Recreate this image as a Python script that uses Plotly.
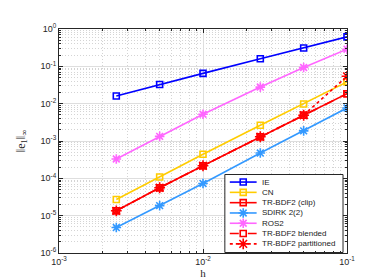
import plotly.graph_objects as go

h = [0.0025, 0.005, 0.01, 0.025, 0.05, 0.1]
ie = [0.0161, 0.0327, 0.0647, 0.160, 0.311, 0.617]
cn = [2.7e-5, 1.09e-4, 4.4e-4, 2.63e-3, 9.8e-3, 0.0383]
trbdf2_clip = [1.35e-5, 5.6e-5, 2.17e-4, 1.3e-3, 4.9e-3, 0.0185]
sdirk = [4.8e-6, 1.86e-5, 7.3e-5, 4.75e-4, 1.87e-3, 7.65e-3]
ros2 = [3.3e-4, 1.33e-3, 5.2e-3, 0.0278, 0.093, 0.288]
trbdf2_blended = [1.35e-5, 5.6e-5, 2.17e-4, 1.3e-3, 4.9e-3, 0.0185]
trbdf2_part = [1.35e-5, 5.6e-5, 2.17e-4, 1.3e-3, 4.9e-3, 0.054]

x_tickvals = [1e-3, 1e-2, 1e-1]
x_ticktext = ["10<sup>-3</sup>", "10<sup>-2</sup>", "10<sup>-1</sup>"]
y_tickvals = [1e-6, 1e-5, 1e-4, 1e-3, 1e-2, 1e-1, 1]
y_ticktext = ["10<sup>-6</sup>", "10<sup>-5</sup>", "10<sup>-4</sup>", "10<sup>-3</sup>",
              "10<sup>-2</sup>", "10<sup>-1</sup>", "10<sup>0</sup>"]
x_minor = [m * 10.0 ** e for e in (-3, -2) for m in range(2, 10)]
y_minor = [m * 10.0 ** e for e in range(-6, 0) for m in range(2, 10)]

series = [
    ("IE", ie, "#0000ff", "square-open", "solid", 6),
    ("CN", cn, "#ffcc00", "square-open", "solid", 6),
    ("TR-BDF2 (clip)", trbdf2_clip, "#ff0000", "square-open", "solid", 6),
    ("SDIRK 2(2)", sdirk, "#3399ff", "asterisk-open", "solid", 8),
    ("ROS2", ros2, "#ff66ff", "asterisk-open", "solid", 8),
    ("TR-BDF2 blended", trbdf2_blended, "#ff0000", "square-open", "dash", 6),
    ("TR-BDF2 partitioned", trbdf2_part, "#ff0000", "asterisk-open", "dot", 9),
]

fig = go.Figure()
for name, y, c, sym, dash, ms in series:
    fig.add_trace(go.Scatter(
        x=h, y=y, name=name, mode="lines+markers", showlegend=False,
        line=dict(color=c, width=1.6, dash=dash),
        marker=dict(symbol=sym, size=ms, color=c, line=dict(color=c, width=1.6)),
    ))

# ---- compact MATLAB-style legend drawn on an overlay axis (pixel-like units)
L_X0, L_X1, L_Y0, L_Y1 = 216, 335, 169, 248.5
row_y0, row_dy = 176.7, 10.5
seg_x0, seg_x1, txt_x = 221, 248, 251
fig.add_trace(go.Scatter(
    x=[L_X0, L_X1, L_X1, L_X0, L_X0], y=[L_Y0, L_Y0, L_Y1, L_Y1, L_Y0],
    mode="lines", fill="toself", fillcolor="white",
    line=dict(color="#262626", width=1), xaxis="x2", yaxis="y2",
    showlegend=False, hoverinfo="skip"))
for i, (name, y, c, sym, dash, ms) in enumerate(series):
    yy = row_y0 + i * row_dy
    fig.add_trace(go.Scatter(
        x=[seg_x0, seg_x1], y=[yy, yy], mode="lines",
        line=dict(color=c, width=1.6, dash=dash), xaxis="x2", yaxis="y2",
        showlegend=False, hoverinfo="skip"))
    fig.add_trace(go.Scatter(
        x=[(seg_x0 + seg_x1) / 2], y=[yy], mode="markers",
        marker=dict(symbol=sym, size=ms, color=c, line=dict(color=c, width=1.6)),
        xaxis="x2", yaxis="y2", showlegend=False, hoverinfo="skip"))
    fig.add_annotation(x=txt_x, y=yy, xref="x2", yref="y2", text=name,
                       showarrow=False, xanchor="left", yanchor="middle",
                       font=dict(family="Liberation Sans, Arial", size=8, color="#1a1a1a"))

axis_common = dict(
    type="log", showline=True, mirror="ticks", linecolor="#262626", linewidth=1,
    ticks="inside", ticklen=4, tickcolor="#262626",
    showgrid=True, gridcolor="#dedede", gridwidth=1,
    tickmode="array", zeroline=False,
    tickfont=dict(family="Liberation Sans, Arial", size=9, color="#262626"),
)
minor_common = dict(tickmode="array", showgrid=True, gridcolor="#d4d4d4",
                    griddash="1px,2px", gridwidth=1, ticks="inside",
                    ticklen=2, tickcolor="#262626")

fig.update_layout(
    width=374, height=280,
    margin=dict(l=49, r=35, t=21, b=31),
    paper_bgcolor="white", plot_bgcolor="white",
    xaxis=dict(range=[-3, -1], tickvals=x_tickvals, ticktext=x_ticktext,
               minor=dict(tickvals=x_minor, **minor_common),
               title=dict(text="h", standoff=2,
                          font=dict(family="Liberation Serif, serif", size=11, color="#262626")),
               **axis_common),
    yaxis=dict(range=[-6, 0], tickvals=y_tickvals, ticktext=y_ticktext,
               minor=dict(tickvals=y_minor, **minor_common),
               title=dict(text="‖e<sub>1</sub>‖<sub>∞</sub>", standoff=12,
                          font=dict(family="Liberation Serif, serif", size=12, color="#262626")),
               **axis_common),
    xaxis2=dict(overlaying="x", range=[49, 339], visible=False, fixedrange=True),
    yaxis2=dict(overlaying="y", range=[249, 20.7], visible=False, fixedrange=True),
    showlegend=False,
)

fig.write_html("out.html")
